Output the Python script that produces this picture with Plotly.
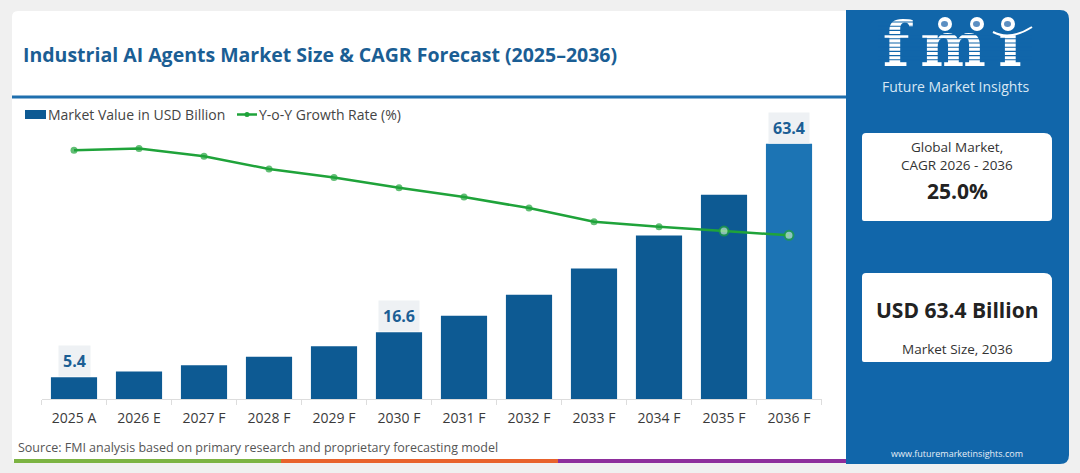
import plotly.graph_objects as go

# ---------------- data ----------------
years = ["2025 A", "2026 E", "2027 F", "2028 F", "2029 F", "2030 F",
         "2031 F", "2032 F", "2033 F", "2034 F", "2035 F", "2036 F"]
market_value = [5.4, 6.8, 8.4, 10.5, 13.1, 16.6, 20.7, 25.9, 32.4, 40.6, 50.7, 63.4]
yoy_growth = [28.0, 28.2, 27.3, 25.8, 24.8, 23.6, 22.5, 21.2, 19.6, 19.0, 18.5, 18.0]
labeled_years = ["2025 A", "2030 F", "2036 F"]

title_text = "Industrial AI Agents Market Size & CAGR Forecast (2025\u20132036)"
legend_bar = "Market Value in USD Billion"
legend_line = "Y-o-Y Growth Rate (%)"
source_text = "Source: FMI analysis based on primary research and proprietary forecasting model"
cagr_label = ["Global Market,", "CAGR 2026 - 2036"]
cagr_value = "25.0%"
size_value = "USD 63.4 Billion"
size_label = "Market Size, 2036"
site_text = "www.futuremarketinsights.com"
logo_letters = ["f", "m", "\u0131"]
logo_caption = "Future Market Insights"

# ---------------- style ----------------
W, H = 1080, 473
FONT = "Open Sans"
BAR = "#0d5a93"
BAR_LAST = "#1c74b4"
GREEN = "#1fa33a"
TITLE_BLUE = "#1b5e94"
PANEL = "#1166aa"


def X(px):
    return px / W


def Y(py):
    return 1 - py / H


def rrect(x0, y0, x1, y1, r_tl=0, r_tr=0, r_br=0, r_bl=0):
    pts = []
    pts.append(f"M {X(x0 + r_tl)},{Y(y0)}")
    pts.append(f"L {X(x1 - r_tr)},{Y(y0)}")
    if r_tr:
        pts.append(f"Q {X(x1)},{Y(y0)} {X(x1)},{Y(y0 + r_tr)}")
    pts.append(f"L {X(x1)},{Y(y1 - r_br)}")
    if r_br:
        pts.append(f"Q {X(x1)},{Y(y1)} {X(x1 - r_br)},{Y(y1)}")
    pts.append(f"L {X(x0 + r_bl)},{Y(y1)}")
    if r_bl:
        pts.append(f"Q {X(x0)},{Y(y1)} {X(x0)},{Y(y1 - r_bl)}")
    pts.append(f"L {X(x0)},{Y(y0 + r_tl)}")
    if r_tl:
        pts.append(f"Q {X(x0)},{Y(y0)} {X(x0 + r_tl)},{Y(y0)}")
    pts.append("Z")
    return " ".join(pts)


# plot area in pixels
PL, PR, PT, PB = 41.5, 821.5, 120, 399
px_per_unit = 255.3 / 63.4
y_top = (PB - PT) / px_per_unit
k2 = 8.5
y2_lo = 28.0 - (PB - 150.3) / k2
y2_hi = y2_lo + (PB - PT) / k2

fig = go.Figure()

fig.add_trace(go.Bar(
    x=years, y=market_value,
    marker=dict(color=[BAR] * (len(years) - 1) + [BAR_LAST], line=dict(width=0)),
    name=legend_bar, showlegend=False, hoverinfo="x+y",
))

n = len(years)
fig.add_trace(go.Scatter(
    x=years, y=yoy_growth, yaxis="y2", mode="lines+markers",
    line=dict(color=GREEN, width=2.5),
    marker=dict(color=[GREEN] * (n - 2) + ["#bfe9c7"] * 2,
                size=[7] * (n - 2) + [9] * 2,
                line=dict(color=GREEN, width=[0] * (n - 2) + [2] * 2)),
    name=legend_line, showlegend=False,
))

# logo letters on an overlay pixel axis (so stripes can be drawn above)
fig.add_trace(go.Scatter(
    x=[896, 953, 1010], y=[81, 81, 81], xaxis="x3", yaxis="y3",
    mode="text", text=logo_letters, textposition="top center", cliponaxis=False,
    textfont=dict(family="DejaVu Serif", size=62, color="white", weight="bold"),
    hoverinfo="skip", showlegend=False,
))

shapes = []
# outer card
shapes.append(dict(type="path", xref="paper", yref="paper", layer="below",
                   path=rrect(12, 11, 848, 463, r_tl=6, r_bl=6),
                   fillcolor="white", line=dict(width=0)))
# right blue panel
shapes.append(dict(type="path", xref="paper", yref="paper", layer="below",
                   path=rrect(846, 10, 1069, 464, r_tr=9, r_br=9),
                   fillcolor=PANEL, line=dict(width=0)))
# separator
shapes.append(dict(type="line", xref="paper", yref="paper", layer="below",
                   x0=X(12), x1=X(846), y0=Y(97), y1=Y(97),
                   line=dict(color="#1f6fae", width=3)))
# bottom colour strip
for x0, x1, c in [(14, 281, "#7cb342"), (281, 558, "#e8622c"), (558, 846, "#8e2e9c")]:
    shapes.append(dict(type="rect", xref="paper", yref="paper", layer="below",
                       x0=X(x0), x1=X(x1), y0=Y(463), y1=Y(459),
                       fillcolor=c, line=dict(width=0)))
# white info boxes
for (y0, y1) in [(133, 221), (273, 362)]:
    shapes.append(dict(type="path", xref="paper", yref="paper", layer="below",
                       path=rrect(862, y0, 1052, y1, r_tl=4, r_tr=8, r_br=4, r_bl=2),
                       fillcolor="white", line=dict(width=0)))
# manual legend symbols
shapes.append(dict(type="rect", xref="paper", yref="paper",
                   x0=X(25), x1=X(46), y0=Y(119), y1=Y(110),
                   fillcolor=BAR, line=dict(width=0)))
shapes.append(dict(type="line", xref="paper", yref="paper",
                   x0=X(237), x1=X(257), y0=Y(114.5), y1=Y(114.5),
                   line=dict(color=GREEN, width=2.5)))
shapes.append(dict(type="circle", xref="paper", yref="paper",
                   x0=X(244.5), x1=X(249.5), y0=Y(117), y1=Y(112),
                   fillcolor=GREEN, line=dict(width=0)))
# logo stripes (drawn above the letters)
yy = 22.0
while yy < 64:
    xa, xb = (878, 918) if yy < 34 else (878, 1032)
    shapes.append(dict(type="line", xref="paper", yref="paper", layer="above",
                       x0=X(xa), x1=X(xb), y0=Y(yy), y1=Y(yy),
                       line=dict(color=PANEL, width=1.1)))
    yy += 4.2
# globes
for cx in [945, 977, 1008]:
    shapes.append(dict(type="circle", xref="paper", yref="paper", layer="above",
                       x0=X(cx - 7), x1=X(cx + 7), y0=Y(31), y1=Y(17),
                       fillcolor="white", line=dict(width=0)))
    shapes.append(dict(type="circle", xref="paper", yref="paper", layer="above",
                       x0=X(cx - 4), x1=X(cx + 3), y0=Y(27), y1=Y(21),
                       fillcolor="#5c8fc2", line=dict(width=0)))
shapes.append(dict(type="path", xref="paper", yref="paper", layer="above",
                   path=f"M {X(993)},{Y(32)} Q {X(1010)},{Y(41)} {X(1032)},{Y(27)}",
                   line=dict(color="white", width=2)))

annotations = []


def txt(x, y, s, size, color, bold=False, xanchor="center", family=FONT, **kw):
    annotations.append(dict(
        xref="paper", yref="paper", x=X(x), y=Y(y), text=(f"<b>{s}</b>" if bold else s),
        showarrow=False, xanchor=xanchor, yanchor="middle",
        font=dict(family=family, size=size, color=color), **kw))


txt(21, 55, title_text, 19.5, TITLE_BLUE, bold=True, xanchor="left")
txt(46, 114.5, legend_bar, 14, "#444444", xanchor="left")
txt(257, 114.5, legend_line, 14, "#444444", xanchor="left")
txt(16, 447, source_text, 12.5, "#555555", xanchor="left")
txt(957, 147, cagr_label[0], 13.5, "#333333")
txt(957, 165, cagr_label[1], 13.5, "#333333")
txt(957, 191, cagr_value, 21, "#222222", bold=True)
txt(957, 310, size_value, 21, "#222222", bold=True)
txt(957, 349, size_label, 13.5, "#333333")
txt(957, 453, site_text, 9, "#e6eef7")
txt(955, 87, logo_caption, 14, "#d8e6f4")

for yr in labeled_years:
    i = years.index(yr)
    annotations.append(dict(
        x=yr, y=market_value[i], xref="x", yref="y", yshift=16,
        text=f"<b>{market_value[i]}</b>", showarrow=False, yanchor="middle",
        font=dict(family=FONT, size=16, color=TITLE_BLUE),
        bgcolor="#eef1f4", borderpad=4))

fig.update_layout(
    width=W, height=H, margin=dict(l=0, r=0, t=0, b=0),
    paper_bgcolor="#f0f0f0", plot_bgcolor="rgba(0,0,0,0)",
    bargap=0.29, showlegend=False,
    font=dict(family=FONT, color="#333333"),
    xaxis=dict(domain=[X(PL), X(PR)], type="category", showgrid=False,
               range=[-0.5, len(years) - 0.5],
               showline=True, linecolor="#dddddd", linewidth=1,
               ticks="outside", tickson="boundaries", ticklen=5, tickcolor="#dddddd",
               tickfont=dict(family=FONT, size=14, color="#3a3a3a"),
               ticklabelstandoff=6, fixedrange=True),
    yaxis=dict(domain=[Y(PB), Y(PT)], range=[0, y_top], visible=False, fixedrange=True),
    yaxis2=dict(overlaying="y", range=[y2_lo, y2_hi], visible=False, fixedrange=True),
    xaxis3=dict(domain=[0, 1], range=[0, W], visible=False, anchor="y3", fixedrange=True),
    yaxis3=dict(domain=[0, 1], range=[H, 0], visible=False, anchor="x3", fixedrange=True),
    shapes=shapes, annotations=annotations,
)

fig.write_html(
    "out.html",
    config={"displayModeBar": False},
    post_script="document.body.style.margin='0';document.body.style.overflow='hidden';",
)
